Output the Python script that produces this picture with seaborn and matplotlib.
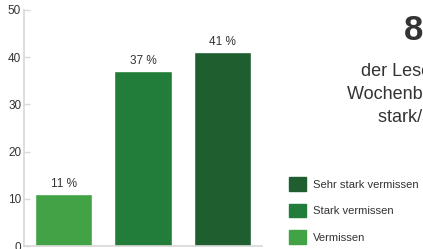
import pandas as pd
import seaborn as sns
import matplotlib.pyplot as plt

categories = ["Vermissen", "Stark vermissen", "Sehr stark vermissen"]
values = [11, 37, 41]
colors = ["#41a246", "#237d3a", "#1e5e2f"]

headline = "89 %"
subtitle = ["der Leser würden das", "Wochenblatt stark/sehr", "stark/sehr stark vermissen"]

df = pd.DataFrame({"kategorie": categories, "wert": values})

sns.set_style("white")
plt.rcParams["font.family"] = ["Liberation Sans", "DejaVu Sans"]

fig = plt.figure(figsize=(4.23, 2.49), dpi=100)
ax = fig.add_axes([24 / 423, 3 / 249, 238 / 423, 236 / 249])

sns.barplot(
    data=df,
    x="kategorie",
    y="wert",
    hue="kategorie",
    palette=colors,
    width=0.72,
    saturation=1,
    legend=False,
    ax=ax
)

for container in ax.containers:
    ax.bar_label(
        container,
        fmt="%d %%",
        padding=3,
        fontsize=8.5,
        color="#333333"
    )

ax.set_ylim(0, 50)
ax.set_xlim(-0.5, 2.5)
ax.set_yticks([0, 10, 20, 30, 40, 50])
ax.set_xticks([])
ax.set_xlabel("")
ax.set_ylabel("")

for side in ["top", "right"]:
    ax.spines[side].set_visible(False)
for side in ["left", "bottom"]:
    ax.spines[side].set_color("#d8d8d8")
    ax.spines[side].set_linewidth(1.2)

ax.tick_params(
    axis="y",
    direction="in",
    length=4.5,
    width=1,
    color="#d8d8d8",
    pad=2,
    labelsize=8.5,
    labelcolor="#333333",
    left=True
)

# legend, reversed order
handles = [
    plt.Rectangle((0, 0), 1, 1, color=c)
    for c in colors
]
fig.legend(
    handles[::-1],
    categories[::-1],
    loc="upper left",
    bbox_to_anchor=(289 / 423, 1 - 177 / 249),
    frameon=False,
    fontsize=8.1,
    handlelength=1.5,
    handleheight=1.5,
    handletextpad=0.65,
    labelspacing=1.15,
    borderaxespad=0,
    borderpad=0,
    labelcolor="#333333"
)

fig.text(
    404 / 423, 1 - 40 / 249,
    headline,
    fontsize=25,
    fontweight="bold",
    color="#333333",
    ha="left",
    va="baseline"
)

starts = [361, 347, 378]
baselines = [76, 99, 122]
for line, x0, y0 in zip(subtitle, starts, baselines):
    fig.text(
        x0 / 423, 1 - y0 / 249,
        line,
        fontsize=13,
        color="#333333",
        ha="left",
        va="baseline"
    )

plt.savefig("out.png", dpi=100)
